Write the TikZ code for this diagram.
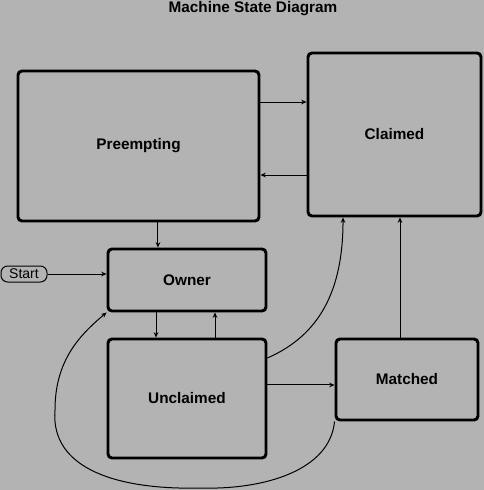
\documentclass[tikz,border=0pt]{standalone}
\usepackage{fontspec}
\setmainfont{Liberation Sans}
\usetikzlibrary{arrows.meta}
\definecolor{bggray}{RGB}{179,179,179}
\tikzset{every picture/.style={line width=0.75pt}}
\tikzset{
  state/.style={draw, line width=2.2pt, rounded corners=3pt, inner sep=0pt, font=\fontsize{11.5}{13}\selectfont\bfseries},
  startbox/.style={draw, line width=0.75pt, rounded corners=5pt, inner sep=0pt, font=\fontsize{10.5}{12}\selectfont},
  trans/.style={-{Stealth[length=4pt,width=3.5pt]}, line width=0.75pt}
}

\begin{document}
\begin{tikzpicture}[x=0.75pt,y=0.75pt,yscale=-1,xscale=1]
%set diagram left start at 0, and has height of 490
\fill [bggray] (0,0) rectangle (484,490);
\useasboundingbox (0,0) rectangle (484,490);

% Text Node
\node [font=\fontsize{11.5}{13}\selectfont\bfseries, anchor=base] (title) at (253,12) {Machine State Diagram};

%Shape: Rectangle [Preempting]
\node [state, minimum width=180.75pt, minimum height=112.5pt] (pre) at (138.5,146) {Preempting};
%Shape: Rectangle [Claimed]
\node [state, minimum width=129.75pt, minimum height=122.25pt] (cla) at (394.5,134.5) {Claimed};
%Shape: Rectangle [Owner]
\node [state, minimum width=118.5pt, minimum height=46.5pt] (own) at (187,280) {Owner};
%Shape: Rectangle [Unclaimed]
\node [state, minimum width=118.5pt, minimum height=89.25pt] (unc) at (187,398.5) {Unclaimed};
%Shape: Rectangle [Matched]
\node [state, minimum width=106.5pt, minimum height=60.75pt] (mat) at (407,379.5) {Matched};
%Shape: Rectangle [Start]
\node [startbox, minimum width=34.5pt, minimum height=12pt] (start) at (24,274) {Start};

%Straight Lines
\draw [trans] ([yshift=-33pt]pre.east) -- ([yshift=-33pt]pre.east -| cla.west);
%Straight Lines
\draw [trans] ([yshift=21.75pt]pre.east -| cla.west) -- ([yshift=21.75pt]pre.east);
%Straight Lines
\draw [trans] ([xshift=14.6pt]pre.south) -- ([xshift=14.6pt]pre.south |- own.north);
%Straight Lines
\draw [trans] (start.east) -- (start.east -| own.west);
%Straight Lines
\draw [trans] ([xshift=-23.25pt]own.south) -- ([xshift=-23.25pt]own.south |- unc.north);
%Straight Lines
\draw [trans] ([xshift=21pt]own.south |- unc.north) -- ([xshift=21pt]own.south);
%Straight Lines
\draw [trans] ([yshift=4.1pt]mat.west -| unc.east) -- ([yshift=4.1pt]mat.west);
%Straight Lines
\draw [trans] ([xshift=-5.25pt]mat.north) -- ([xshift=-5.25pt]mat.north |- cla.south);

%Curve Lines
\draw [trans] ([yshift=-30.4pt]unc.east) .. controls (320,335) and (343,290) .. ([xshift=-38.6pt]cla.south);
%Curve Lines
\draw [trans] (mat.south west) .. controls (330,470) and (265,490) .. (200,488)
  .. controls (120,490) and (50,470) .. (55,410)
  .. controls (55,360) and (80,335) .. (own.south west);

\end{tikzpicture}
\end{document}
